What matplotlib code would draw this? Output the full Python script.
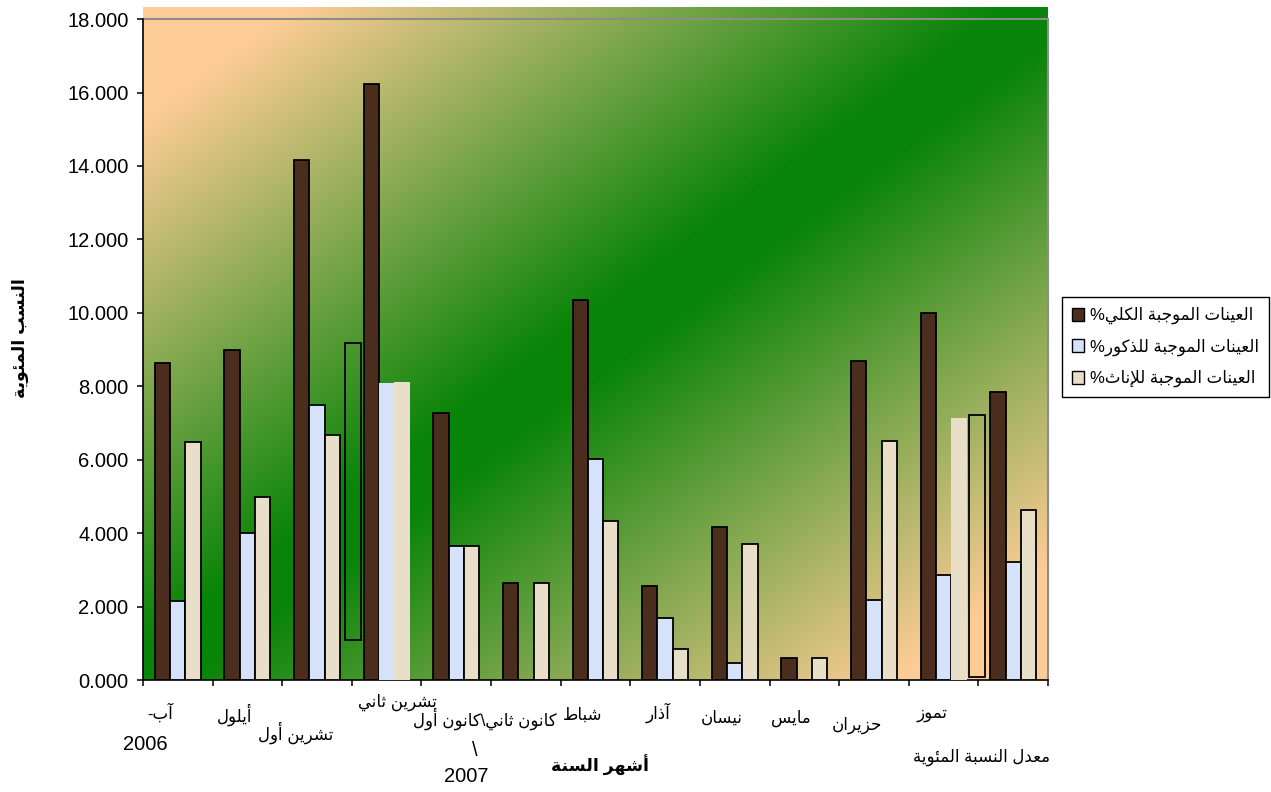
import numpy as np
import matplotlib

matplotlib.use("Agg")
import matplotlib.pyplot as plt
from matplotlib.patches import Patch, Rectangle
from matplotlib.transforms import blended_transform_factory

# monthly share of positive samples (%), Aug 2006 .. Jul 2007 + overall mean
MONTHS = ["آب-", "أيلول", "تشرين أول", "تشرين ثاني", "كانون أول", "كانون ثاني",
          "شباط", "آذار", "نيسان", "مايس", "حزيران", "تموز", "معدل النسبة المئوية"]
TOTAL = [8.63, 8.99, 14.16, 16.22, 7.27, 2.65, 10.35, 2.56, 4.17, 0.60, 8.70, 9.99, 7.85]
MALE = [2.16, 4.01, 7.49, 8.10, 3.65, 0.0, 6.03, 1.70, 0.47, 0.0, 2.17, 2.86, 3.22]
FEMALE = [6.47, 4.99, 6.67, 8.12, 3.65, 2.65, 4.32, 0.85, 3.70, 0.60, 6.52, 7.14, 4.63]
SERIES = ["العينات الموجبة الكلي", "العينات الموجبة للذكور", "العينات الموجبة للإناث"]
# two empty outlined boxes left over in the plot area: (x0, x1, y0, y1)
OUTLINES = [(2.40, 2.63, 1.09, 9.17), (11.37, 11.60, 0.09, 7.22)]

YTICKS = np.arange(0, 20, 2)
XLABEL = "أشهر السنة"
YLABEL = "النسب المئوية"

# --- minimal arabic shaping (presentation forms B) + visual reordering ---
_F = {}
def _add(ch, start, n):
    f = [chr(start + k) for k in range(n)]
    _F[ch] = (f[0], f[1], f[2], f[3]) if n == 4 else (f[0], f[1] if n > 1 else None, None, None)

for ch, start, n in [("ء", 0xFE80, 1), ("آ", 0xFE81, 2), ("أ", 0xFE83, 2), ("ؤ", 0xFE85, 2),
                     ("إ", 0xFE87, 2), ("ئ", 0xFE89, 4), ("ا", 0xFE8D, 2), ("ب", 0xFE8F, 4),
                     ("ة", 0xFE93, 2), ("ت", 0xFE95, 4), ("ث", 0xFE99, 4), ("ج", 0xFE9D, 4),
                     ("ح", 0xFEA1, 4), ("خ", 0xFEA5, 4), ("د", 0xFEA9, 2), ("ذ", 0xFEAB, 2),
                     ("ر", 0xFEAD, 2), ("ز", 0xFEAF, 2), ("س", 0xFEB1, 4), ("ش", 0xFEB5, 4),
                     ("ص", 0xFEB9, 4), ("ض", 0xFEBD, 4), ("ط", 0xFEC1, 4), ("ظ", 0xFEC5, 4),
                     ("ع", 0xFEC9, 4), ("غ", 0xFECD, 4), ("ف", 0xFED1, 4), ("ق", 0xFED5, 4),
                     ("ك", 0xFED9, 4), ("ل", 0xFEDD, 4), ("م", 0xFEE1, 4), ("ن", 0xFEE5, 4),
                     ("ه", 0xFEE9, 4), ("و", 0xFEED, 2), ("ى", 0xFEEF, 2), ("ي", 0xFEF1, 4)]:
    _add(ch, start, n)
_LAMALEF = {"آ": 0xFEF5, "أ": 0xFEF7, "إ": 0xFEF9, "ا": 0xFEFB}


def _joins_next(ch):
    return ch in _F and _F[ch][2] is not None


def rtl(s):
    out, i = [], 0
    while i < len(s):
        ch = s[i]
        prev = s[i - 1] if i > 0 else ""
        nxt = s[i + 1] if i + 1 < len(s) else ""
        jp = _joins_next(prev)
        if ch == "ل" and nxt in _LAMALEF:
            out.append(chr(_LAMALEF[nxt] + (1 if jp else 0)))
            i += 2
            continue
        if ch not in _F:
            out.append(ch)
            i += 1
            continue
        iso, fin, ini, med = _F[ch]
        jn = _joins_next(ch) and nxt in _F
        if jp and jn:
            out.append(med)
        elif jp:
            out.append(fin)
        elif jn:
            out.append(ini)
        else:
            out.append(iso)
        i += 1
    return "".join(out)[::-1]


FAM = ["Liberation Sans", "DejaVu Sans"]
plt.rcParams["font.family"] = FAM

fig = plt.figure(figsize=(12.71, 7.92), dpi=100)
ax = fig.add_axes([143 / 1271, 112 / 792, 905 / 1271, 673 / 792])
n = len(MONTHS)
ax.set_xlim(-0.5, n - 0.5)
ax.set_ylim(0, 18.33)

# diagonal gradient: green along bottom-left -> top-right, peach in the corners
u, v = np.meshgrid(np.linspace(0, 1, 600), np.linspace(1, 0, 400))
t = np.clip((np.abs(u - v) - 0.05) / 0.78, 0, 1)[..., None]
green = np.array([8, 132, 8]) / 255
peach = np.array([253, 204, 150]) / 255
ax.imshow(green + (peach - green) * t, extent=[0, 1, 0, 1], transform=ax.transAxes,
          aspect="auto", zorder=0)

x = np.arange(n)
w = 0.22
cols = ["#4b2d1d", "#d6e2fa", "#e9dfc8"]
bars = []
for k, (vals, c) in enumerate(zip([TOTAL, MALE, FEMALE], cols)):
    b = ax.bar(x + (k - 1) * w, vals, w, color=c, edgecolor="black", lw=1.3, zorder=3)
    bars.append(b)
# a few bars are drawn without outline
for k, i in [(1, 3), (2, 3), (2, 11)]:
    bars[k][i].set_edgecolor("none")

for x0, x1, y0, y1 in OUTLINES:
    ax.add_patch(Rectangle((x0, y0), x1 - x0, y1 - y0, fill=False, ec="black", lw=1.3, zorder=3))

ax.axhline(18, color="#8c8c8c", lw=1.5, zorder=2)
ax.plot([n - 0.5, n - 0.5], [0, 18], color="#8c8c8c", lw=1.5, zorder=2, clip_on=False)

for s in ("top", "right"):
    ax.spines[s].set_visible(False)
for s in ("left", "bottom"):
    ax.spines[s].set_linewidth(1.2)
ax.spines["left"].set_bounds(0, 18)
ax.set_yticks(YTICKS)
ax.set_yticklabels([f"{y:.3f}" for y in YTICKS], fontsize=14.5)
ax.set_xticks(np.arange(-0.5, n, 1))
ax.set_xticklabels([])
ax.tick_params(axis="both", length=4.5, width=1.1, direction="out")
ax.tick_params(axis="y", pad=6)

# category labels, staggered as in the source sheet: (dx from category, pixel y below axis)
tr = blended_transform_factory(ax.transData, ax.transAxes)
LAYOUT = [(-0.26, 32), (-0.18, 35), (-0.30, 53), (0.15, 22), None, (-0.59, 39),
          (-0.18, 35), (-0.10, 33), (-0.18, 38), (-0.20, 38), (-0.24, 45), (-0.16, 34), (-0.45, 77)]
for i, (name, pos) in enumerate(zip(MONTHS, LAYOUT)):
    if pos is None:
        continue
    txt = rtl(name)
    if i == 5:
        # Dec / Jan share one label line, split by a backslash
        txt = rtl(MONTHS[4]) + "\\" + txt
    dx, dy = pos
    ax.text(i + dx, -dy / 673, txt, transform=tr, ha="center", va="center",
            fontsize=12, family=FAM)
ax.text(-0.47, -65 / 673, "2006", transform=tr, ha="center", va="center", fontsize=14.5)
ax.text(4.27, -70 / 673, "\\", transform=tr, ha="center", va="center", fontsize=14.5)
ax.text(4.14, -96 / 673, "2007", transform=tr, ha="center", va="center", fontsize=14.5)
ax.text(6.07, -85 / 673, rtl(XLABEL), transform=tr, ha="center", va="center",
        fontsize=12.5, fontweight="bold", family=FAM)
fig.text(20 / 1271, 1 - 338 / 792, rtl(YLABEL), rotation=90, ha="center", va="center",
         fontsize=12.5, fontweight="bold", family=FAM)

handles = [Patch(facecolor=c, edgecolor="black", lw=1.0) for c in cols]
leg = fig.legend(handles, ["%" + rtl(s) for s in SERIES], loc="upper left",
                 bbox_to_anchor=(1062 / 1271, 1 - 297 / 792), fontsize=12, frameon=True,
                 fancybox=False, edgecolor="black", framealpha=1, handlelength=0.7,
                 handleheight=0.8, handletextpad=0.4, labelspacing=0.85, borderpad=0.6,
                 borderaxespad=0)
leg.get_frame().set_linewidth(1.0)

fig.savefig("out.png", dpi=100)
